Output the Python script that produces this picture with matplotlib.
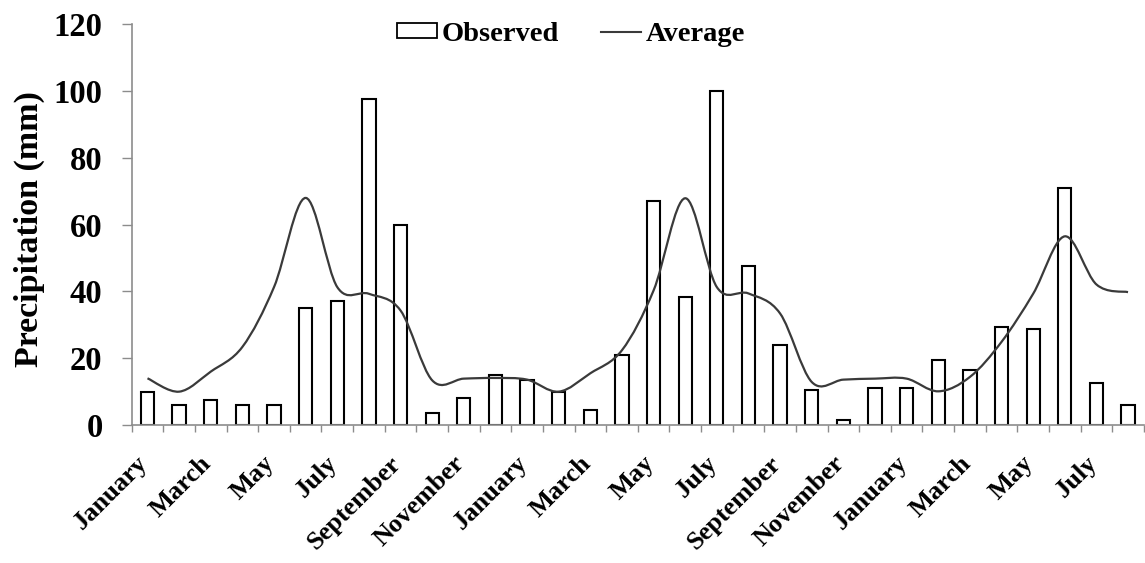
import matplotlib

matplotlib.use("Agg")
import matplotlib.pyplot as plt
import matplotlib.transforms as mtransforms
import numpy as np
from matplotlib.lines import Line2D
from matplotlib.patches import PathPatch, Patch
from matplotlib.path import Path

MONTHS = ["January", "February", "March", "April", "May", "June", "July",
          "August", "September", "October", "November", "December"]
CATEGORIES = (MONTHS * 3)[:32]

OBSERVED = [10, 6, 7.5, 6, 6, 35, 37, 97.5, 60, 3.7, 8.1, 15,
            13.4, 10, 4.4, 21, 67.2, 38.3, 100, 47.5, 24, 10.4, 1.5, 11.1,
            11.1, 19.4, 16.4, 29.3, 28.7, 71, 12.7, 5.9]
AVERAGE = [14, 10, 16, 23.4, 41.3, 68, 41.3, 39.3, 34.3, 13.4, 13.9, 14.1,
           13.6, 10, 15.5, 22.4, 40.3, 67.9, 41.3, 39.4, 33.4, 12.9, 13.6, 13.9,
           13.9, 10.1, 14.4, 24.9, 39.3, 56.5, 42.1, 39.8]

GREY = "#8c8c8c"
LINE = "#3a3a3a"
FONT = "Liberation Serif"


def smooth_path(x, y, k=1 / 6):
    # cubic bezier through every point, tangents from neighbours (spreadsheet-style smoothing)
    pts = np.column_stack([x, y]).astype(float)
    n = len(pts)
    verts = [pts[0]]
    codes = [Path.MOVETO]
    for i in range(n - 1):
        p0 = pts[max(i - 1, 0)]
        p1 = pts[i]
        p2 = pts[i + 1]
        p3 = pts[min(i + 2, n - 1)]
        c1 = p1 + (p2 - p0) * k
        c2 = p2 - (p3 - p1) * k
        verts += [c1, c2, p2]
        codes += [Path.CURVE4] * 3
    return Path(verts, codes)


plt.rcParams["font.family"] = FONT
plt.rcParams["font.weight"] = "bold"
plt.rcParams["axes.labelweight"] = "bold"

fig = plt.figure(figsize=(11.45, 5.63), dpi=100)
ax = fig.add_axes([0.115, 0.245, 0.884, 0.712])

x = np.arange(len(CATEGORIES))
ax.bar(x, OBSERVED, width=0.42, color="white", edgecolor="black", linewidth=1.5, zorder=2)
ax.add_patch(PathPatch(smooth_path(x, AVERAGE), fill=False, edgecolor=LINE, linewidth=1.6, zorder=3))

ax.set_xlim(-0.5, len(CATEGORIES) - 0.5)
ax.set_ylim(0, 120)
ax.set_yticks(np.arange(0, 121, 20))
ax.tick_params(axis="y", labelsize=23.5, color=GREY, length=7, width=1, pad=14)

ax.set_xticks(x[::2])
ax.set_xticklabels(CATEGORIES[::2], rotation=45, ha="right", rotation_mode="anchor", fontsize=19)
ax.set_xticks(np.arange(-0.5, len(CATEGORIES), 1), minor=True)
ax.tick_params(axis="x", which="major", length=0, pad=19)
ax.tick_params(axis="x", which="minor", length=5, color=GREY, width=1)
shift = mtransforms.ScaledTranslation(-11 / 100, 0, fig.dpi_scale_trans)
for lab in ax.get_xticklabels():
    lab.set_transform(lab.get_transform() + shift)

for side in ("top", "right"):
    ax.spines[side].set_visible(False)
for side in ("left", "bottom"):
    ax.spines[side].set_color(GREY)
    ax.spines[side].set_linewidth(1.2)

ax.set_ylabel("Precipitation (mm)", fontsize=24.5)
ax.yaxis.set_label_coords(-0.086, 0.49)

handles = [Patch(facecolor="white", edgecolor="black", linewidth=1.3),
           Line2D([], [], color=LINE, linewidth=1.5)]
ax.legend(handles, ["Observed", "Average"], loc="upper center", bbox_to_anchor=(0.434, 1.07),
          ncol=2, frameon=False, fontsize=20.5, handlelength=1.4, handleheight=0.45,
          handletextpad=0.15, columnspacing=1.5)

fig.savefig("out.png", dpi=100)
